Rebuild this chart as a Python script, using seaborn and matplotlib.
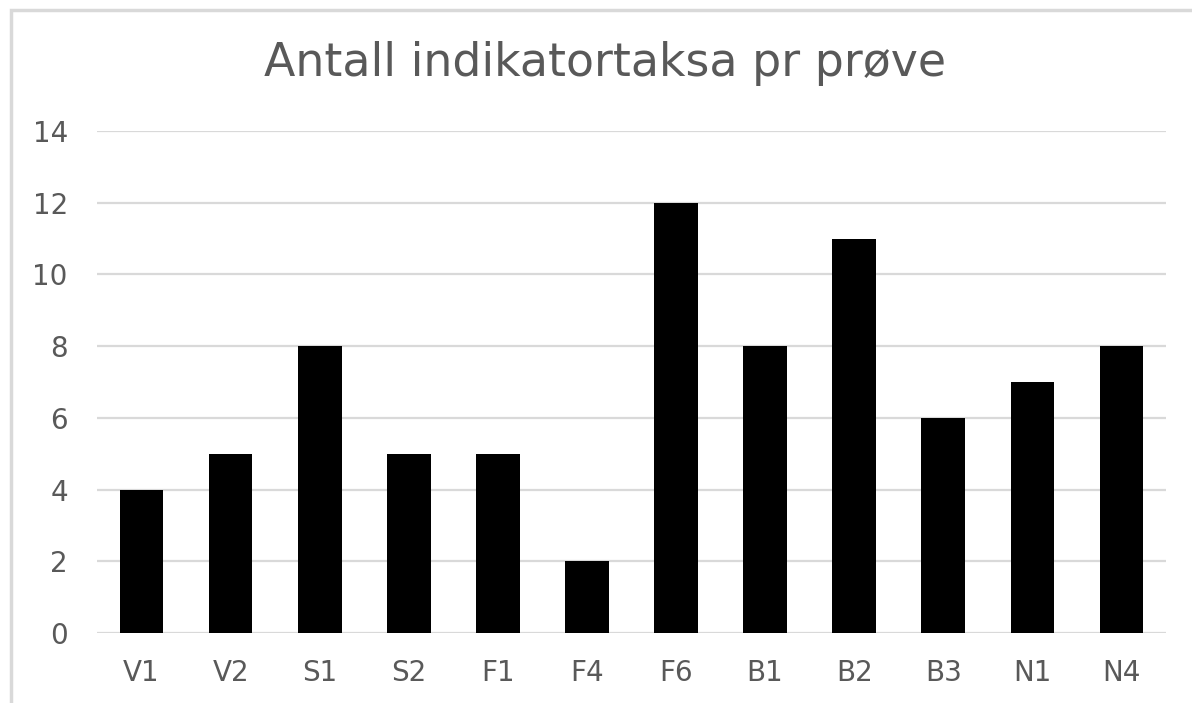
import matplotlib
matplotlib.use("Agg")
import matplotlib.pyplot as plt
import seaborn as sns
from matplotlib.patches import Rectangle

# Data
samples = ["V1", "V2", "S1", "S2", "F1", "F4", "F6", "B1", "B2", "B3", "N1", "N4"]
counts = [4, 5, 8, 5, 5, 2, 12, 8, 11, 6, 7, 8]
yticks = [0, 2, 4, 6, 8, 10, 12, 14]

sns.set_style("white")
plt.rcParams['font.family'] = ['DejaVu Sans']

W, H = 1192, 703
fig = plt.figure(figsize=(W / 100, H / 100), dpi=100)
ax = fig.add_axes([97 / W, 1 - 633 / H, (1166 - 97) / W, (633 - 131) / H])

sns.barplot(x=samples, y=counts, color="black", width=0.49, saturation=1,
            linewidth=0, ax=ax)

ax.set_ylim(0, 14)
ax.set_yticks(yticks)
ax.yaxis.grid(True, color="#d9d9d9", linewidth=1.6)
ax.set_axisbelow(True)
for s in ax.spines.values():
    s.set_visible(False)
ax.axhline(0, color="#d9d9d9", linewidth=2, zorder=0.5)
ax.tick_params(axis="y", length=0, pad=21, labelsize=20, labelcolor="#595959")
ax.tick_params(axis="x", length=0, pad=19, labelsize=20, labelcolor="#595959")
ax.set_xlabel("")
ax.set_ylabel("")

fig.text(605 / W, 1 - 63 / H, "Antall indikatortaksa pr prøve", ha="center", va="center",
         fontsize=33, color="#595959")

# chart border (cropped on the right and bottom)
fig.patches.append(Rectangle((11 / W, -0.1), 1.2, 1 - 10 / H + 0.1, transform=fig.transFigure,
                             fill=False, edgecolor="#d9d9d9", linewidth=2.5))

fig.savefig("out.png", dpi=100)
